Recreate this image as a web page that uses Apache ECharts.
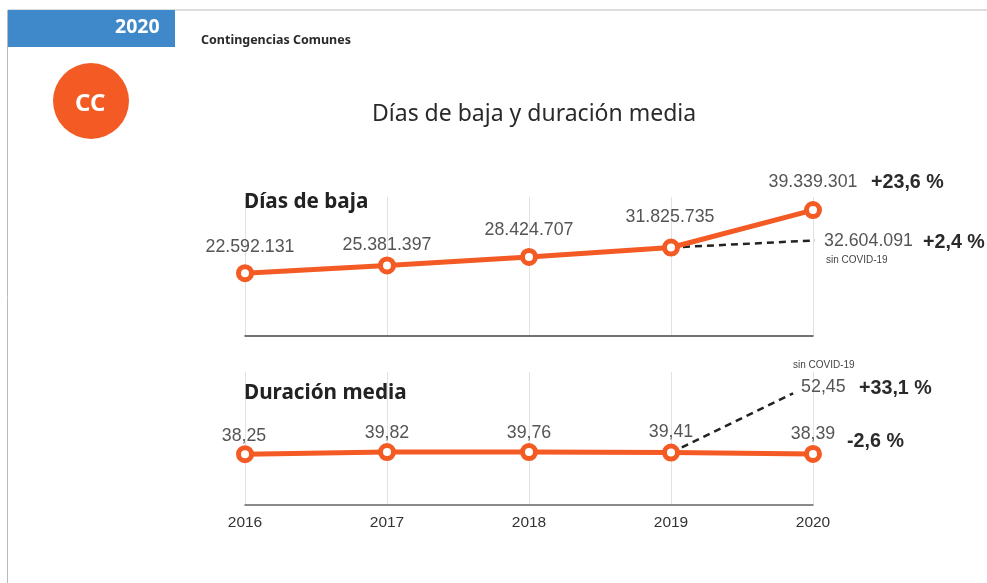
<!DOCTYPE html>
<html>
<head>
<meta charset="utf-8">
<style>
html, body { margin: 0; padding: 0; background: #fff; }
#chart { width: 987px; height: 583px; }
</style>
<script src="https://cdn.jsdelivr.net/npm/echarts@6/dist/echarts.min.js"></script>
</head>
<body>
<div id="chart"></div>
<script>
const years = [2016, 2017, 2018, 2019, 2020]

// heights. the source draws its 2020 and "sin COVID" points
// higher than their printed numbers, so printed labels are kept apart from them
const diasBajaValues = [22592131, 25381397, 28424707, 31825735, 45300000]
const diasBajaLabels = ['22.592.131', '25.381.397', '28.424.707', '31.825.735', '39.339.301']
const diasBajaCovid = [[2019, 31825735], [2020.02, 34400000]]
const diasBajaCovidLabel = '32.604.091'

const duracionValues = [38.25, 39.82, 39.76, 39.41, 38.39]
const duracionLabels = ['38,25', '39,82', '39,76', '39,41', '38,39']
const duracionCovid = [[2019, 39.41], [2019.86, 84]]
const duracionCovidLabel = '52,45'

const orange = '#f35a24'
const sans = '"Liberation Sans", Arial, sans-serif'
const head = '"Noto Sans", sans-serif'

const diasBajaOffsets = [[5, -3], [0, 3], [0, -4], [-1, -7], [0, -5]]
const duracionOffsets = [[-1, 5], [0, 4], [0, 4], [0, 3], [0, 3]]

const toPairs = vals => vals.map((v, i) => [years[i], v])

const mainSeries = (idx, vals, labels, offsets) => ({
    type: 'line',
    xAxisIndex: idx,
    yAxisIndex: idx,
    z: 5,
    clip: false,
    symbol: 'circle',
    symbolSize: 13,
    lineStyle: { color: orange, width: 5 },
    itemStyle: { color: '#fff', borderColor: orange, borderWidth: 5 },
    label: {
        show: true,
        position: 'top',
        fontFamily: sans,
        fontSize: 17.8,
        color: '#555',
        formatter: p => labels[p.dataIndex]
    },
    data: toPairs(vals).map((d, i) => ({ value: d, label: { offset: offsets[i] } }))
})

const covidSeries = (idx, pairs, label, offset) => ({
    type: 'line',
    xAxisIndex: idx,
    yAxisIndex: idx,
    z: 3,
    clip: false,
    showSymbol: false,
    symbol: 'none',
    lineStyle: { color: '#222', width: 2.5, type: [7, 5] },
    endLabel: {
        show: true,
        fontFamily: sans,
        fontSize: 17.8,
        color: '#555',
        offset: offset,
        formatter: () => label
    },
    data: pairs
})

const xAxisBase = (idx, axisColor, showLabels) => ({
    type: 'value',
    gridIndex: idx,
    min: 2016,
    max: 2020,
    interval: 1,
    axisLine: { show: true, lineStyle: { color: axisColor, width: 1.5 } },
    axisTick: { show: false },
    splitLine: { show: true, lineStyle: { color: '#e2e2e2', width: 1 } },
    axisLabel: {
        show: showLabels,
        margin: 10,
        fontFamily: sans,
        fontSize: 15.5,
        color: '#333',
        hideOverlap: false,
        formatter: v => String(v)
    }
})

const text = (x, y, str, font, color) => ({
    type: 'text',
    x: x,
    y: y,
    z: 20,
    style: { text: str, font: font, fill: color, textVerticalAlign: 'middle' }
})

const chart = echarts.init(document.getElementById('chart'))
chart.setOption({
    animation: false,
    backgroundColor: '#fff',
    grid: [
        { left: 245, width: 568, top: 197, height: 139 },
        { left: 245, width: 568, top: 372, height: 133 }
    ],
    xAxis: [xAxisBase(0, '#444', false), xAxisBase(1, '#666', true)],
    yAxis: [
        { type: 'value', gridIndex: 0, min: 0, max: 50000000, show: false },
        { type: 'value', gridIndex: 1, min: 0, max: 100, show: false }
    ],
    series: [
        covidSeries(0, diasBajaCovid, diasBajaCovidLabel, [1, 1]),
        mainSeries(0, diasBajaValues, diasBajaLabels, diasBajaOffsets),
        covidSeries(1, duracionCovid, duracionCovidLabel, [0, -6]),
        mainSeries(1, duracionValues, duracionLabels, duracionOffsets)
    ],
    graphic: [
        { type: 'line', shape: { x1: 8, y1: 10, x2: 987, y2: 10 }, style: { stroke: '#bbb', lineWidth: 1 } },
        { type: 'line', shape: { x1: 7.5, y1: 10, x2: 7.5, y2: 583 }, style: { stroke: '#bbb', lineWidth: 1 } },
        { type: 'rect', shape: { x: 8, y: 10, width: 167, height: 37 }, style: { fill: '#3f88c9' } },
        { type: 'circle', shape: { cx: 91, cy: 101, r: 38 }, style: { fill: orange } },
        text(115, 27, '2020', 'bold 19.5px ' + head, '#fff'),
        text(201, 40, 'Contingencias Comunes', 'bold 12.5px ' + head, '#2a2a2a'),
        text(75, 104, 'CC', 'bold 24px ' + head, '#fff'),
        text(372, 114, 'Días de baja y duración media', '23px ' + head, '#2a2a2a'),
        text(244, 202, 'Días de baja', 'bold 20.7px ' + head, '#222'),
        text(244, 393, 'Duración media', 'bold 20.7px ' + head, '#222'),
        text(871, 183, '+23,6 %', 'bold 19.7px ' + sans, '#2a2a2a'),
        text(923, 243, '+2,4 %', 'bold 19.7px ' + sans, '#2a2a2a'),
        text(859, 389, '+33,1 %', 'bold 19.7px ' + sans, '#2a2a2a'),
        text(847, 442, '-2,6 %', 'bold 19.7px ' + sans, '#2a2a2a'),
        text(826, 260, 'sin COVID-19', '10px ' + sans, '#444'),
        text(793, 365, 'sin COVID-19', '10px ' + sans, '#444')
    ]
})
</script>
</body>
</html>
